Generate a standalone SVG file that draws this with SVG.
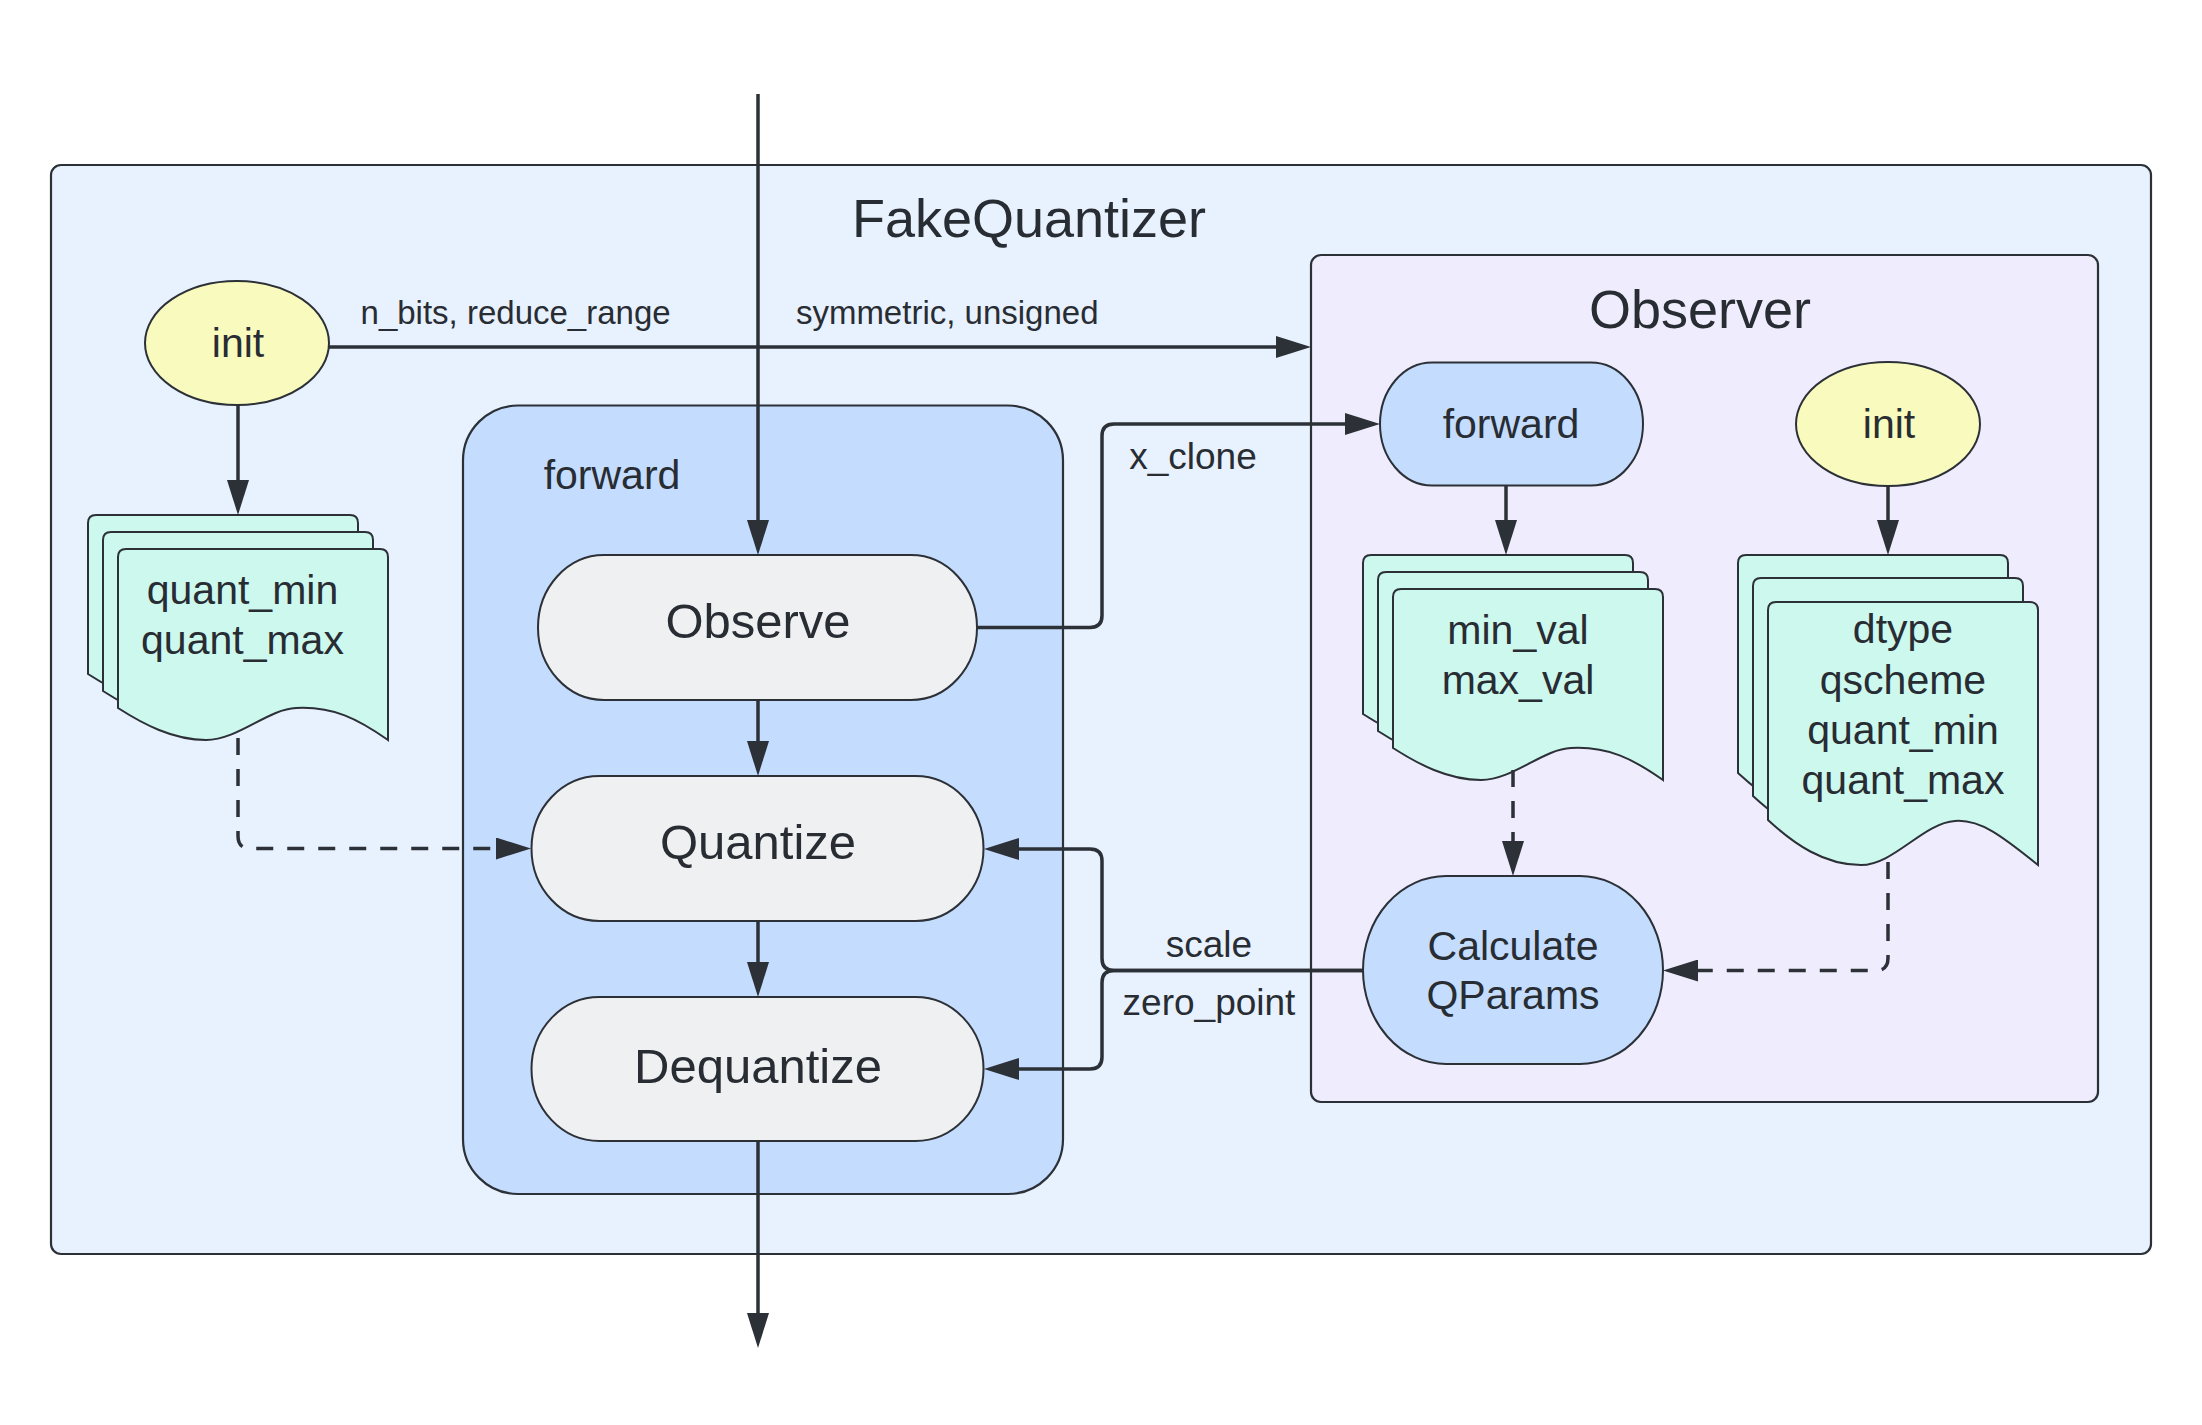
<svg xmlns="http://www.w3.org/2000/svg" width="2202" height="1425" viewBox="0 0 2202 1425">
<defs>
<style>
text{font-family:"Liberation Sans",Arial,sans-serif;fill:#282c33;text-anchor:middle}
.shape{stroke:#2c3037;stroke-width:2}
.cont{stroke:#2c3037;stroke-width:2.2}
.pill{fill:#eff0f2}
.blue{fill:#c4dcfd}
.yel{fill:#f9fbbe}
.doc{fill:#cdf8ee}
.conn{fill:none;stroke:#2c3037;stroke-width:3.5;stroke-linejoin:round}
.dash{stroke-dasharray:17 14}
.t54{font-size:54px}
.t49{font-size:49px}
.t41{font-size:41px}
.t37{font-size:37px}
.t33{font-size:33px}
</style>
<marker id="ah" viewBox="0 0 35 22" refX="27" refY="11" markerWidth="35" markerHeight="22" markerUnits="userSpaceOnUse" orient="auto">
<path d="M0,0 L35,11 L0,22 Z" fill="#2c3037" stroke="none"/>
</marker>
<path id="docS" d="M0,8 Q0,0 8,0 H262 Q270,0 270,8 V191 C240,170 215,157 178,159 C150,160 120,191 88,191 C55,191 25,175 0,159 Z"/>
<path id="docT" d="M0,8 Q0,0 8,0 H262 Q270,0 270,8 V263 C234,234 212,217 187,219 C155,221 126,263 93,263 C56,263 26,242 0,218 Z"/>
</defs>

<g id="fakequantizer">
<rect class="cont" x="51" y="165" width="2100" height="1089" rx="10" fill="#e8f1fe"/>
<text class="t54" x="1029" y="236.6">FakeQuantizer</text>
</g>

<g id="observer">
<rect class="cont" x="1311" y="255" width="787" height="847" rx="10" fill="#efedfd"/>
<text class="t54" x="1700" y="328">Observer</text>
</g>

<g id="forward-container">
<rect class="cont" x="463" y="405.5" width="600" height="788.5" rx="55" fill="#c4dcfd"/>
<text class="t41" x="612" y="489">forward</text>
</g>

<g id="init-left">
<ellipse class="shape yel" cx="237" cy="343" rx="92" ry="62"/>
<text class="t41" x="238" y="357">init</text>
</g>

<g id="quant-doc">
<use href="#docS" class="shape doc" x="88" y="515"/>
<use href="#docS" class="shape doc" x="103" y="532"/>
<use href="#docS" class="shape doc" x="118" y="549"/>
<text class="t41" x="242.5" y="604">quant_min</text>
<text class="t41" x="242.5" y="654">quant_max</text>
</g>

<g id="observe">
<rect class="shape pill" x="538" y="555" width="439" height="145" rx="66" ry="72.5"/>
<text class="t49" x="758" y="638">Observe</text>
</g>

<g id="quantize">
<rect class="shape pill" x="531.5" y="776" width="452" height="145" rx="68" ry="72.5"/>
<text class="t49" x="758" y="859">Quantize</text>
</g>

<g id="dequantize">
<rect class="shape pill" x="531.5" y="997" width="452" height="144" rx="68" ry="72"/>
<text class="t49" x="758" y="1083">Dequantize</text>
</g>

<g id="observer-forward">
<rect class="shape blue" x="1380" y="362.5" width="263" height="123" rx="52" ry="61.5"/>
<text class="t41" x="1511" y="437.5">forward</text>
</g>

<g id="observer-init">
<ellipse class="shape yel" cx="1888" cy="424" rx="92" ry="62"/>
<text class="t41" x="1889" y="437.5">init</text>
</g>

<g id="minmax-doc">
<use href="#docS" class="shape doc" x="1363" y="555"/>
<use href="#docS" class="shape doc" x="1378" y="572"/>
<use href="#docS" class="shape doc" x="1393" y="589"/>
<text class="t41" x="1518" y="644">min_val</text>
<text class="t41" x="1518" y="694">max_val</text>
</g>

<g id="dtype-doc">
<use href="#docT" class="shape doc" x="1738" y="555"/>
<use href="#docT" class="shape doc" x="1753" y="578"/>
<use href="#docT" class="shape doc" x="1768" y="602"/>
<text class="t41" x="1903" y="643">dtype</text>
<text class="t41" x="1903" y="694">qscheme</text>
<text class="t41" x="1903" y="744">quant_min</text>
<text class="t41" x="1903" y="794">quant_max</text>
</g>

<g id="calculate-qparams">
<rect class="shape blue" x="1363" y="876" width="300" height="188" rx="83" ry="94"/>
<text class="t41" x="1513" y="960">Calculate</text>
<text class="t41" x="1513" y="1009">QParams</text>
</g>

<g id="connectors">
<path class="conn" d="M758,94 V547" marker-end="url(#ah)"/>
<path class="conn" d="M758,700 V768" marker-end="url(#ah)"/>
<path class="conn" d="M758,921 V989" marker-end="url(#ah)"/>
<path class="conn" d="M758,1141 V1340" marker-end="url(#ah)"/>
<path class="conn" d="M329,347 H1303" marker-end="url(#ah)"/>
<path class="conn" d="M238,405 V507" marker-end="url(#ah)"/>
<path class="conn" d="M977,627.5 H1090 Q1102,627.5 1102,615.5 V436 Q1102,424 1114,424 H1372" marker-end="url(#ah)"/>
<path class="conn" d="M1363,970.5 H1114 Q1102,970.5 1102,958.5 V861 Q1102,849 1090,849 H992" marker-end="url(#ah)"/>
<path class="conn" d="M1363,970.5 H1114 Q1102,970.5 1102,982.5 V1057 Q1102,1069 1090,1069 H992" marker-end="url(#ah)"/>
<path class="conn" d="M1506,486 V547" marker-end="url(#ah)"/>
<path class="conn" d="M1888,486 V547" marker-end="url(#ah)"/>
<path class="conn dash" d="M238,738 V836 Q238,848.5 250,848.5 H523" marker-end="url(#ah)"/>
<path class="conn dash" d="M1513,770 V868" marker-end="url(#ah)"/>
<path class="conn dash" d="M1888,862 V958 Q1888,970.5 1876,970.5 H1671" marker-end="url(#ah)"/>
<text class="t33" x="515.6" y="323.6">n_bits, reduce_range</text>
<text class="t33" x="947.2" y="323.6">symmetric, unsigned</text>
<text class="t37" x="1193" y="469">x_clone</text>
<text class="t37" x="1209" y="957">scale</text>
<text class="t37" x="1209" y="1015">zero_point</text>
</g>
</svg>
